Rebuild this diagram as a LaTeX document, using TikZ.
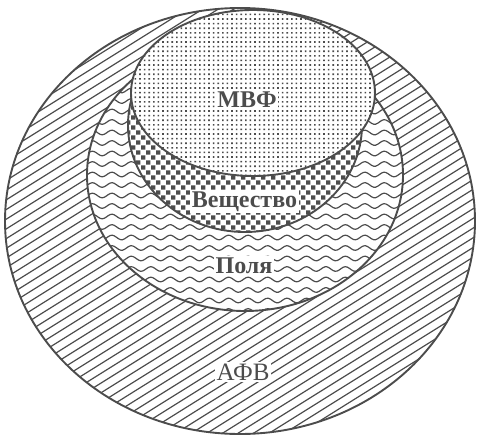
\documentclass[tikz,border=0pt]{standalone}
\usepackage{fontspec}
\setmainfont{Liberation Serif}
\definecolor{ink}{HTML}{4c4c4c}
\begin{document}
\begin{tikzpicture}[x=1pt,y=-1pt,
  outline/.style={draw=ink, line width=1.9pt},
  hatchline/.style={draw=ink, line width=1.2pt},
  waveline/.style={draw=ink, line width=1.2pt},
  txt/.style={font=\bfseries\fontsize{24}{24}\selectfont, text=ink, fill=white, inner sep=1.5pt, anchor=base}]
\useasboundingbox (0,0) rectangle (480,439);
% outer ellipse AFV
\fill[white] (240,221) ellipse [x radius=235, y radius=213];
\begin{scope}
  \clip (240,221) ellipse [x radius=235, y radius=213];
  \foreach \k in {0,...,80} {\draw[hatchline] (0,{\k*9.7}) -- (480,{\k*9.7-300});}
\end{scope}
\draw[outline] (240,221) ellipse [x radius=235, y radius=213];
% fields ellipse
\fill[white] (245,175) ellipse [x radius=158, y radius=136];
\begin{scope}
  \clip (245,175) ellipse [x radius=158, y radius=136];
  \foreach \k in {0,...,26} {\draw[waveline] plot[domain=84:406, samples=160, smooth] (\x, {38+\k*10.5+2.3*sin(\x*18.5)});}
\end{scope}
\draw[outline] (245,175) ellipse [x radius=158, y radius=136];
% substance ellipse
\fill[white] (245,125) ellipse [x radius=117, y radius=107];
\begin{scope}
  \clip (245,125) ellipse [x radius=117, y radius=107];
  \fill[ink] \foreach \i in {0,...,48} {\foreach \j in {0,...,16} {({126+\i*5},{80+(2*\j+mod(\i,2))*5+0.4}) rectangle ++(4.3,4.3)}};
\end{scope}
\draw[outline] (245,125) ellipse [x radius=117, y radius=107];
% MVF ellipse
\fill[white] (253,93) ellipse [x radius=122, y radius=83];
\begin{scope}
  \clip (253,93) ellipse [x radius=122, y radius=83];
  \fill[ink] \foreach \i in {0,...,54} {\foreach \j in {0,...,37} {({130+\i*4.6},{9+\j*4.6}) rectangle ++(1.6,1.6)}};
\end{scope}
\draw[outline] (253,93) ellipse [x radius=122, y radius=83];
% labels
\node[txt] (mvf) at (247,107) {МВФ};
\node[txt] (vesh) at (244.5,207) {Вещество};
\node[txt] (polya) at (244,273) {Поля};
\node[txt, font=\fontsize{25}{25}\selectfont] (afv) at (243,380) {АФВ};
\end{tikzpicture}
\end{document}
